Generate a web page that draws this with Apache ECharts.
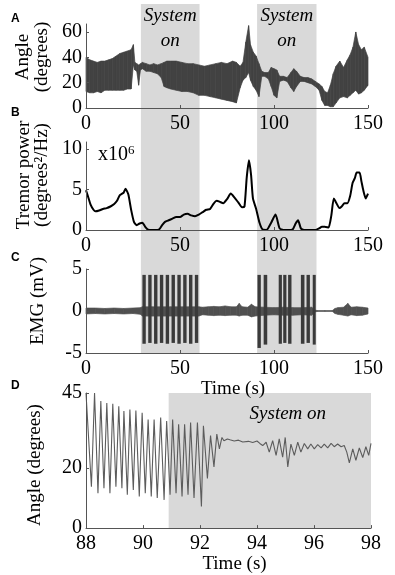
<!DOCTYPE html>
<html>
<head>
<meta charset="utf-8">
<script src="https://cdn.jsdelivr.net/npm/echarts@6/dist/echarts.min.js"></script>
<style>
html,body{margin:0;padding:0;background:#fff;}
#chart{width:395px;height:575px;}
</style>
</head>
<body>
<div id="chart"></div>
<script>
var SERIF = 'Liberation Serif';
var SHADE = '#d9d9d9';
var AXIS = '#555';

// stimulation on (s)
var onStart = [29.2, 91.0];
var onEnd = [60.4, 122.6];

// A: angle envelope (degrees)
var angleT  = [0, 2, 4, 6, 8, 10, 12, 14, 16, 18, 20, 22, 24, 25.2, 26, 27, 28, 29, 30, 32, 34, 36, 38, 40, 41.5, 43, 45, 48, 51, 54, 57, 60, 63, 66, 69, 72, 75, 78, 80, 82, 83.5, 85, 86.5, 87.5, 89, 90.5, 92, 93.5, 95, 97, 98.5, 100, 101.5, 103, 105, 107, 109, 110.5, 112, 114, 116, 118, 120, 122, 124, 125.5, 127, 128.5, 130, 131.5, 133, 135, 137, 139, 140.5, 142, 143.5, 145, 146.5, 148, 150];
var angleHi = [40, 38, 37, 36, 37, 37, 38, 39, 41, 43, 44, 45, 46, 50, 36, 35, 34, 35, 36, 35, 34, 35, 34, 35, 36, 37, 37, 37, 36, 35, 35, 34, 33, 34, 35, 36, 35, 37, 36, 33, 36, 52, 65, 50, 44, 41, 35, 29, 28, 28, 32, 31, 30, 25, 25, 24, 28, 31, 29, 25, 24, 24, 23, 21, 19, 17, 13, 12, 18, 27, 33, 37, 32, 38, 42, 48, 60, 50, 46, 48, 40];
var angleLo = [13, 12, 12, 13, 12, 14, 14, 14, 14, 14, 14, 15, 15, 34, 30, 29, 18, 30, 31, 29, 29, 28, 27, 24, 17, 16, 15, 14, 13, 13, 12, 10, 10, 9, 8, 7, 6, 5, 4, 16, 22, 24, 28, 22, 17, 14, 9, 25, 25, 23, 17, 10, 8, 21, 22, 21, 16, 13, 17, 21, 21, 20, 19, 17, 14, 6, 2, 2, 1, 1, 4, 8, 9, 8, 10, 12, 14, 11, 12, 14, 18];

// B: tremor power (x10^6 degrees^2/Hz)
var powerT = [0, 1, 2.5, 4, 5, 7, 9, 11, 13, 15, 16.5, 18, 20, 21, 22.5, 24, 25.5, 27, 28.5, 30, 31.5, 33, 35, 37, 39, 40.5, 42, 44, 46, 48, 50, 52, 54, 56, 58, 60, 62, 64, 66, 68, 69.5, 71, 73, 75, 77, 79, 81, 83, 84.3, 85.5, 86.7, 87.8, 88.8, 90.5, 92.3, 94, 96, 98.5, 100.8, 103, 105, 108, 110, 111.5, 112.8, 114.3, 116, 118, 120, 122, 124, 125.5, 127, 129, 130.5, 131.8, 133, 134.8, 136, 137.5, 139, 140.5, 141.8, 143, 144, 145.5, 146.5, 147.5, 148.8, 150];
var powerV = [4.9, 4.2, 3.1, 2.5, 2.3, 2.4, 2.6, 2.7, 2.9, 3.2, 3.6, 4.3, 4.6, 5.1, 4.4, 2.5, 1.0, 0.6, 0.8, 0.9, 0.4, 0.05, 0, 0, 0.1, 0.6, 1.0, 1.2, 1.4, 1.6, 1.6, 1.9, 2.0, 1.8, 1.7, 1.9, 2.2, 2.5, 2.6, 3.3, 3.6, 3.5, 3.3, 3.8, 4.5, 4.0, 3.4, 2.8, 2.9, 6.5, 8.6, 6.8, 3.9, 2.6, 0.9, 0.05, 0, 0.9, 1.9, 0.2, 0, 0, 0.1, 0.8, 1.2, 0.2, 0, 0, 0, 0, 0.2, 0.4, 0.4, 0.3, 1.8, 3.9, 3.4, 2.7, 2.9, 3.3, 3.3, 4.2, 5.8, 6.4, 7.1, 7.1, 6.0, 4.9, 3.9, 4.5];

// C: EMG background envelope (mV)
var emgT  = [0, 5, 10, 15, 20, 25, 29, 30, 35, 40, 45, 50, 55, 60, 62, 65, 68, 71, 74, 77, 80, 81.5, 83, 86, 88, 90, 95, 100, 105, 110, 115, 120, 122, 123, 127, 131, 132.5, 134, 137, 139.3, 141, 144, 147, 150];
var emgHi = [0.35, 0.35, 0.3, 0.35, 0.3, 0.35, 0.4, 0.5, 0.5, 0.5, 0.5, 0.5, 0.5, 0.5, 0.45, 0.5, 0.55, 0.5, 0.6, 0.5, 0.5, 0.9, 0.5, 0.45, 0.8, 0.5, 0.45, 0.4, 0.45, 0.4, 0.4, 0.45, 0.1, 0.05, 0.05, 0.05, 0.3, 0.4, 0.45, 0.9, 0.45, 0.5, 0.45, 0.35];
var emgLo = [-0.35, -0.3, -0.35, -0.3, -0.35, -0.3, -0.4, -0.6, -0.6, -0.6, -0.6, -0.6, -0.6, -0.6, -0.45, -0.5, -0.55, -0.5, -0.55, -0.5, -0.5, -0.6, -0.5, -0.5, -0.7, -0.6, -0.5, -0.45, -0.5, -0.5, -0.45, -0.5, -0.1, -0.05, -0.05, -0.05, -0.3, -0.4, -0.5, -0.6, -0.45, -0.55, -0.5, -0.35];

// C: stimulation bursts (s, mV)
var burstStart = [30.0, 33.1, 36.2, 39.3, 42.4, 45.5, 48.6, 51.7, 54.8, 57.9, 91.2, 94.5, 102.5, 104.9, 107.5, 114.3, 117.3, 120.6];
var burstEnd   = [31.8, 34.9, 38.0, 41.1, 44.2, 47.3, 50.4, 53.5, 56.6, 59.7, 93.0, 96.4, 104.2, 106.6, 109.3, 116.2, 119.1, 122.2];
var burstHi    = [4.3, 4.3, 4.3, 4.3, 4.3, 4.3, 4.3, 4.3, 4.3, 4.3, 4.3, 4.3, 4.3, 4.3, 4.3, 4.3, 4.3, 4.3];
var burstLo    = [-3.9, -3.8, -3.9, -3.8, -3.9, -3.8, -3.9, -3.8, -3.9, -3.8, -4.4, -4.0, -3.9, -3.8, -3.9, -3.9, -3.8, -4.0];

// D: angle, 88-98 s (degrees)
var zoomOn = [90.9, 98];
var zoomT = [88.0, 88.19, 88.30, 88.42, 88.52, 88.63, 88.73, 88.84, 88.94, 89.05, 89.15, 89.26, 89.33, 89.45, 89.54, 89.66, 89.75, 89.87, 89.97, 90.08, 90.18, 90.29, 90.39, 90.50, 90.62, 90.74, 90.83, 90.95, 91.04, 91.16, 91.25, 91.37, 91.46, 91.58, 91.67, 91.79, 91.91, 92.05, 92.12, 92.26, 92.37, 92.49, 92.59, 92.68, 92.77, 92.84, 92.96, 93.05, 93.2, 93.35, 93.5, 93.7, 93.85, 94.0, 94.1, 94.20, 94.32, 94.43, 94.55, 94.67, 94.78, 94.90, 94.99, 95.08, 95.19, 95.31, 95.43, 95.54, 95.66, 95.78, 95.89, 96.01, 96.13, 96.25, 96.36, 96.48, 96.60, 96.71, 96.83, 96.95, 97.06, 97.15, 97.24, 97.36, 97.47, 97.59, 97.71, 97.82, 97.92, 98.0];
var zoomV = [45.0, 13.8, 45.0, 11.6, 42.3, 13.3, 41.7, 11.6, 41.4, 13.8, 40.6, 13.3, 39.0, 11.1, 39.5, 12.7, 39.2, 10.5, 38.4, 11.6, 36.2, 10.5, 36.2, 10.0, 36.8, 9.4, 35.7, 11.1, 36.2, 11.6, 34.6, 10.5, 34.6, 11.1, 35.2, 10.0, 35.2, 7.2, 34.1, 16.5, 30.8, 20.4, 31.3, 26.4, 30.2, 29.1, 29.7, 29.4, 29.0, 29.3, 28.7, 28.9, 28.5, 29.0, 28.2, 27.5, 28.6, 25.3, 29.1, 24.2, 29.7, 23.6, 30.2, 20.4, 28.0, 24.2, 28.6, 25.3, 28.2, 26.4, 28.0, 26.4, 27.8, 26.7, 28.0, 26.7, 28.2, 27.1, 28.0, 27.1, 27.5, 25.3, 21.7, 26.4, 22.6, 26.7, 23.5, 27.1, 24.2, 28.2];

var angleTicks = [0, 20, 40, 60];
var powerTicks = [0, 5, 10];
var emgTicks = [-5, 0, 5];
var zoomAngleTicks = [0, 20, 45];

function pairs(t, v) {
	return t.map(function (x, i) { return [x, v[i]]; });
}

// 包络带：相邻两点之间画一个四边形
function bandSeries(idx, t, hi, lo, color) {
	var data = [];
	for (var i = 0; i < t.length - 1; i++) {
		data.push([t[i], hi[i], lo[i], t[i + 1], hi[i + 1], lo[i + 1]]);
	}
	return {
		type: 'custom', xAxisIndex: idx, yAxisIndex: idx, z: 3, silent: true,
		data: data,
		encode: { x: [0, 3], y: [1, 2, 4, 5] },
		renderItem: function (params, api) {
			var a = api.coord([api.value(0), api.value(1)]);
			var b = api.coord([api.value(3), api.value(4)]);
			var c = api.coord([api.value(3), api.value(5)]);
			var d = api.coord([api.value(0), api.value(2)]);
			return { type: 'polygon', shape: { points: [a, b, c, d] }, style: { fill: color, stroke: color, lineWidth: 0.7 } };
		}
	};
}

function xAx(g, min, max, interval, name, nameGap) {
	return {
		type: 'value', gridIndex: g, min: min, max: max, interval: interval, z: 5,
		axisLine: { show: true, onZero: false, lineStyle: { color: AXIS, width: 1 } },
		axisTick: { show: true, inside: true, length: 3, lineStyle: { color: AXIS } },
		splitLine: { show: false },
		axisLabel: { color: '#000', fontFamily: SERIF, fontSize: 20, margin: 6 },
		name: name || '', nameLocation: 'middle', nameGap: nameGap || 20,
		nameTextStyle: { color: '#000', fontFamily: SERIF, fontSize: 19, padding: [0, 0, 0, 12] }
	};
}
function yAx(g, min, max, ticks, name, gap, pad, lh) {
	return {
		type: 'value', gridIndex: g, min: min, max: max, z: 5,
		axisLine: { show: true, onZero: false, lineStyle: { color: AXIS, width: 1 } },
		axisTick: { show: true, inside: true, length: 3, customValues: ticks, lineStyle: { color: AXIS } },
		axisLabel: { customValues: ticks, color: '#000', fontFamily: SERIF, fontSize: 20, margin: 4 },
		splitLine: { show: false },
		name: name, nameLocation: 'middle', nameRotate: 90, nameGap: gap,
		nameTextStyle: { color: '#000', fontFamily: SERIF, fontSize: 19, lineHeight: lh, padding: pad }
	};
}
function letter(txt, top) {
	return { text: txt, left: 6, top: top, textStyle: { fontFamily: 'Liberation Sans', fontWeight: 'bold', fontSize: 12, color: '#000' } };
}

var chart = echarts.init(document.getElementById('chart'));
var option = {
	animation: false,
	backgroundColor: '#fff',
	title: [
		letter('A', 8), letter('B', 102), letter('C', 247), letter('D', 375),
		{
			left: 93, top: 139, text: '{a|x10}{b|6}',
			textStyle: { fontWeight: 'normal', rich: {
				a: { fontFamily: SERIF, fontSize: 20, fontWeight: 'normal', color: '#000' },
				b: { fontFamily: SERIF, fontSize: 13, fontWeight: 'normal', color: '#000', padding: [0, 0, 9, 0] }
			} }
		}
	],
	grid: [
		{ left: 86, top: 4, width: 282, height: 349 },
		{ left: 86, top: 24, width: 282, height: 84 },
		{ left: 86, top: 142, width: 282, height: 88 },
		{ left: 86, top: 269, width: 282, height: 84 },
		{ left: 86, top: 393, width: 285, height: 137 }
	],
	xAxis: [
		{ type: 'value', gridIndex: 0, min: 0, max: 150, show: false },
		xAx(1, 0, 150, 50),
		xAx(2, 0, 150, 50),
		xAx(3, 0, 150, 50, 'Time (s)', 19),
		xAx(4, 88, 98, 2, 'Time (s)', 20)
	],
	yAxis: [
		{ type: 'value', gridIndex: 0, min: 0, max: 1, show: false },
		yAx(1, 0, 66.3, angleTicks, 'Angle\n(degrees)', 29, [0, 0, 0, 18], 19),
		yAx(2, 0, 10.86, powerTicks, 'Tremor power\n(degrees²/Hz)', 33, [0, 0, 0, 22], 18),
		yAx(3, -5, 5, emgTicks, 'EMG (mV)', 38, [0, 0, 0, 20], 19),
		yAx(4, 0, 45, zoomAngleTicks, 'Angle (degrees)', 41, [0, 9, 0, 0], 19)
	],
	series: [
		{
			type: 'line', xAxisIndex: 0, yAxisIndex: 0, data: [[0, 0]], showSymbol: false, silent: true, z: 1,
			lineStyle: { opacity: 0 },
			markArea: {
				silent: true,
				itemStyle: { color: SHADE },
				label: {
					show: true, position: 'insideTop', formatter: 'System\non', offset: [0, -6],
					fontFamily: SERIF, fontStyle: 'italic', fontSize: 19, lineHeight: 25, color: '#000'
				},
				data: onStart.map(function (s, i) { return [{ xAxis: s }, { xAxis: onEnd[i] }]; })
			}
		},
		bandSeries(1, angleT, angleHi, angleLo, '#424242'),
		{
			type: 'line', xAxisIndex: 2, yAxisIndex: 2, data: pairs(powerT, powerV),
			symbol: 'none', smooth: 0.2, lineStyle: { color: '#000', width: 2 }
		},
		bandSeries(3, emgT, emgHi, emgLo, '#505050'),
		{
			type: 'custom', xAxisIndex: 3, yAxisIndex: 3, z: 4, silent: true,
			data: burstStart.map(function (s, i) { return [s, burstEnd[i], burstHi[i], burstLo[i]]; }),
			encode: { x: [0, 1], y: [2, 3] },
			renderItem: function (params, api) {
				var p0 = api.coord([api.value(0), api.value(2)]);
				var p1 = api.coord([api.value(1), api.value(3)]);
				return { type: 'rect', shape: { x: p0[0], y: p0[1], width: p1[0] - p0[0], height: p1[1] - p0[1] }, style: { fill: '#3a3a3a' } };
			}
		},
		{
			type: 'line', xAxisIndex: 4, yAxisIndex: 4, data: pairs(zoomT, zoomV),
			symbol: 'none', lineStyle: { color: '#5c5c5c', width: 1.1 },
			markArea: {
				silent: true,
				itemStyle: { color: SHADE },
				label: {
					show: true, position: 'insideTop', formatter: 'System on', offset: [18, 6],
					fontFamily: SERIF, fontStyle: 'italic', fontSize: 19, color: '#000'
				},
				data: [[{ xAxis: zoomOn[0] }, { xAxis: zoomOn[1] }]]
			}
		}
	]
};
chart.setOption(option);
</script>
</body>
</html>
